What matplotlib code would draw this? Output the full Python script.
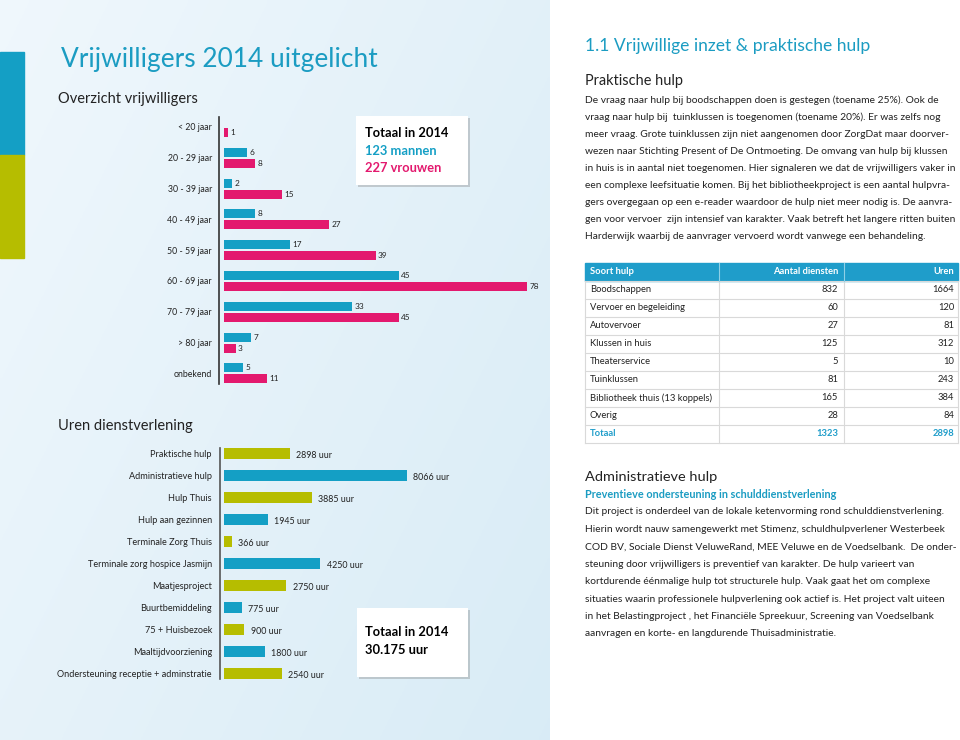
import numpy as np
import matplotlib
matplotlib.use("Agg")
import matplotlib.pyplot as plt
from matplotlib.patches import Rectangle
import matplotlib.patheffects as pe

# ---- data ----
leeftijd = ["< 20 jaar", "20 - 29 jaar", "30 - 39 jaar", "40 - 49 jaar", "50 - 59 jaar",
            "60 - 69 jaar", "70 - 79 jaar", "> 80 jaar", "onbekend"]
mannen = [0, 6, 2, 8, 17, 45, 33, 7, 5]
vrouwen = [1, 8, 15, 27, 39, 78, 45, 3, 11]

diensten = ["Praktische hulp", "Administratieve hulp", "Hulp Thuis", "Hulp aan gezinnen",
            "Terminale Zorg Thuis", "Terminale zorg hospice Jasmijn", "Maatjesproject",
            "Buurtbemiddeling", "75 + Huisbezoek", "Maaltijdvoorziening",
            "Ondersteuning receptie + adminstratie"]
uren = [2898, 8066, 3885, 1945, 366, 4250, 2750, 775, 900, 1800, 2540]

soort_hulp = ["Boodschappen", "Vervoer en begeleiding", "Autovervoer", "Klussen in huis",
              "Theaterservice", "Tuinklussen", "Bibliotheek thuis (13 koppels)", "Overig"]
aantal_diensten = [832, 60, 27, 125, 5, 81, 165, 28]
uren_hulp = [1664, 120, 81, 312, 10, 243, 384, 84]

tekst_praktisch = [
    "De vraag naar hulp bij boodschappen doen is gestegen (toename 25%). Ook de",
    "vraag naar hulp bij  tuinklussen is toegenomen (toename 20%). Er was zelfs nog",
    "meer vraag. Grote tuinklussen zijn niet aangenomen door ZorgDat maar doorver-",
    "wezen naar Stichting Present of De Ontmoeting. De omvang van hulp bij klussen",
    "in huis is in aantal niet toegenomen. Hier signaleren we dat de vrijwilligers vaker in",
    "een complexe leefsituatie komen. Bij het bibliotheekproject is een aantal hulpvra-",
    "gers overgegaan op een e-reader waardoor de hulp niet meer nodig is. De aanvra-",
    "gen voor vervoer  zijn intensief van karakter. Vaak betreft het langere ritten buiten",
    "Harderwijk waarbij de aanvrager vervoerd wordt vanwege een behandeling.",
]
tekst_admin = [
    "Dit project is onderdeel van de lokale ketenvorming rond schulddienstverlening.",
    "Hierin wordt nauw samengewerkt met Stimenz, schuldhulpverlener Westerbeek",
    "COD BV, Sociale Dienst VeluweRand, MEE Veluwe en de Voedselbank.  De onder-",
    "steuning door vrijwilligers is preventief van karakter. De hulp varieert van",
    "kortdurende éénmalige hulp tot structurele hulp. Vaak gaat het om complexe",
    "situaties waarin professionele hulpverlening ook actief is. Het project valt uiteen",
    "in het Belastingproject , het Financiële Spreekuur, Screening van Voedselbank",
    "aanvragen en korte- en langdurende Thuisadministratie.",
]

BLUE = "#149fc5"
PINK = "#e3196e"
GREEN = "#b6bd00"
TITLE = "#1b9cc2"
DARK = "#222222"
BODY = ["Lato", "DejaVu Sans"]
HEAD = ["Lato", "DejaVu Sans"]
plt.rcParams["font.family"] = BODY

W, H = 960, 740
fig = plt.figure(figsize=(9.6, 7.4), dpi=100)
renderer = fig.canvas.get_renderer()


def frac(x0, y0, x1, y1):
    return [x0 / W, 1 - y1 / H, (x1 - x0) / W, (y1 - y0) / H]


bg = fig.add_axes([0, 0, 1, 1], zorder=0)
bg.set_xlim(0, W)
bg.set_ylim(H, 0)
bg.axis("off")


def size_for(s, width, weight="normal", fam=BODY):
    # font size that makes string s about `width` pixels wide
    t = bg.text(0, 0, s, fontsize=10, family=fam, fontweight=weight)
    w = t.get_window_extent(renderer).width
    t.remove()
    return 10 * width / w


# left panel gradient
gx, gy = np.meshgrid(np.linspace(0, 1, 200), np.linspace(0, 1, 200))
g = np.clip(0.6 * gx + 0.4 * gy, 0, 1)
c0 = np.array([0.94, 0.97, 0.99])
c1 = np.array([0.85, 0.925, 0.965])
img = c0[None, None, :] * (1 - g[..., None]) + c1[None, None, :] * g[..., None]
bg.imshow(img, extent=[0, 550, H, 0], aspect="auto", zorder=0)
bg.set_xlim(0, W)
bg.set_ylim(H, 0)

bg.add_patch(Rectangle((0, 52), 24, 103, color=BLUE, zorder=1))
bg.add_patch(Rectangle((0, 155), 24, 103, color=GREEN, zorder=1))

bg.text(61, 60, "Vrijwilligers 2014 uitgelicht", color=TITLE,
        fontsize=size_for("Vrijwilligers 2014 uitgelicht", 315, fam=HEAD),
        family=HEAD, va="center", ha="left")
bg.text(58, 99, "Overzicht vrijwilligers", color=DARK,
        fontsize=size_for("Overzicht vrijwilligers", 139, fam=HEAD), family=HEAD, va="center")
bg.text(58, 426, "Uren dienstverlening", color=DARK,
        fontsize=size_for("Uren dienstverlening", 134, fam=HEAD), family=HEAD, va="center")

shadow = [pe.SimplePatchShadow(offset=(1.5, -1.5), shadow_rgbFace="0.5", alpha=0.35), pe.Normal()]
fs_box = size_for("Totaal in 2014", 83, weight="bold", fam=HEAD)
bg.add_patch(Rectangle((356, 116), 112, 69, facecolor="white", edgecolor="none",
                       zorder=2, path_effects=shadow))
bg.text(365, 133, "Totaal in 2014", color="black", fontsize=fs_box, family=HEAD,
        fontweight="bold", va="center", zorder=3)
bg.text(365, 151, "%d mannen" % sum(mannen), color=BLUE, fontsize=fs_box, family=HEAD,
        fontweight="bold", va="center", zorder=3)
bg.text(365, 168, "%d vrouwen" % sum(vrouwen), color=PINK, fontsize=fs_box, family=HEAD,
        fontweight="bold", va="center", zorder=3)

bg.add_patch(Rectangle((357, 608), 111, 69, facecolor="white", edgecolor="none",
                       zorder=2, path_effects=shadow))
bg.text(365, 632, "Totaal in 2014", color="black", fontsize=fs_box, family=HEAD,
        fontweight="bold", va="center", zorder=3)
bg.text(365, 650, "{:,} uur".format(sum(uren)).replace(",", "."), color="black",
        fontsize=fs_box, family=HEAD, fontweight="bold", va="center", zorder=3)


def style_axis(ax, outward, lo, hi, col):
    # spine position first: it resets the ticks
    for s in ["top", "right", "bottom"]:
        ax.spines[s].set_visible(False)
    ax.spines["left"].set_position(("outward", outward))
    ax.spines["left"].set_bounds(lo, hi)
    ax.spines["left"].set_linewidth(1.2)
    ax.spines["left"].set_color(col)
    ax.patch.set_alpha(0)


# ---- top chart: vrijwilligers per leeftijd ----
fs_tick1 = size_for("20 - 29 jaar", 44)
fs_val1 = size_for("78", 9.5)
ax1 = fig.add_axes(frac(224, 111.6, 527, 388.8), zorder=2)
style_axis(ax1, 3.6, -0.33, 8.33, "#333333")
y = np.arange(len(leeftijd))
off, bh = 0.18, 0.29
for i in range(len(leeftijd)):
    if mannen[i] > 0:
        ax1.barh(y[i] - off, mannen[i], height=bh, color=BLUE)
        ax1.text(mannen[i] + 0.6, y[i] - off, str(mannen[i]), fontsize=fs_val1,
                 color=DARK, va="center")
    if vrouwen[i] > 0:
        ax1.barh(y[i] + off, vrouwen[i], height=bh, color=PINK)
        ax1.text(vrouwen[i] + 0.6, y[i] + off, str(vrouwen[i]), fontsize=fs_val1,
                 color=DARK, va="center")
ax1.set_xlim(0, 78)
ax1.set_ylim(len(leeftijd) - 0.5, -0.5)
ax1.set_xticks([])
ax1.set_yticks(y)
ax1.set_yticklabels(leeftijd)
ax1.tick_params(axis="y", length=0, pad=5, labelsize=fs_tick1, labelcolor=DARK)

# ---- bottom chart: uren dienstverlening ----
fs_tick2 = size_for("Ondersteuning receptie + adminstratie", 156)
fs_val2 = size_for("2898 uur", 36)
ax2 = fig.add_axes(frac(224, 442.5, 407, 684.5), zorder=2)
style_axis(ax2, 2.9, -0.27, 10.27, "#555555")
y2 = np.arange(len(diensten))
kleuren = [GREEN if i % 2 == 0 else BLUE for i in range(len(diensten))]
ax2.barh(y2, uren, height=0.5, color=kleuren)
for i, v in enumerate(uren):
    ax2.text(v + 270, y2[i] + 0.07, "%d uur" % v, fontsize=fs_val2,
             color=DARK, va="center")
ax2.set_xlim(0, 8066)
ax2.set_ylim(len(diensten) - 0.5, -0.5)
ax2.set_xticks([])
ax2.set_yticks(y2)
ax2.set_yticklabels(diensten)
ax2.tick_params(axis="y", length=0, pad=5.8, labelsize=fs_tick2, labelcolor=DARK)

# ---- right side text ----
bg.text(585, 46, "1.1 Vrijwillige inzet & praktische hulp", color=TITLE,
        fontsize=size_for("1.1 Vrijwillige inzet & praktische hulp", 285, fam=HEAD),
        family=HEAD, va="center")
fs_h = size_for("Praktische hulp", 98, fam=HEAD)
bg.text(585, 81, "Praktische hulp", color=DARK, fontsize=fs_h, family=HEAD, va="center")
fs_p = min(size_for(line, 372) for line in tekst_praktisch)
for i, line in enumerate(tekst_praktisch):
    bg.text(585, 100 + 17.1 * i, line, color=DARK, fontsize=fs_p, va="center")

# table
fs_t = size_for("Bibliotheek thuis (13 koppels)", 122)
cols = [585, 719, 844, 958]
top = 263
rh = 18
bg.add_patch(Rectangle((cols[0], top), cols[-1] - cols[0], rh, color="#1f9dca", zorder=1))
hdr = ["Soort hulp", "Aantal diensten", "Uren"]
bg.text(cols[0] + 5, top + rh / 2, hdr[0], color="white", fontsize=fs_t,
        fontweight="bold", va="center")
bg.text(cols[2] - 6, top + rh / 2, hdr[1], color="white", fontsize=fs_t,
        fontweight="bold", va="center", ha="right")
bg.text(cols[3] - 4, top + rh / 2, hdr[2], color="white", fontsize=fs_t,
        fontweight="bold", va="center", ha="right")
rows = list(zip(soort_hulp, aantal_diensten, uren_hulp))
rows.append(("Totaal", sum(aantal_diensten), sum(uren_hulp)))
for r, (naam, n, u) in enumerate(rows):
    yc = top + rh * (r + 1) + rh / 2
    tot = r == len(rows) - 1
    col = "#1f9dca" if tot else DARK
    fw = "bold" if tot else "normal"
    bg.text(cols[0] + 5, yc, naam, color=col, fontsize=fs_t, fontweight=fw, va="center")
    bg.text(cols[2] - 6, yc, str(n), color=col, fontsize=fs_t, fontweight=fw,
            va="center", ha="right")
    bg.text(cols[3] - 4, yc, str(u), color=col, fontsize=fs_t, fontweight=fw,
            va="center", ha="right")
bottom = top + rh * (len(rows) + 1)
for r in range(len(rows) + 1):
    yl = top + rh * (r + 1)
    bg.plot([cols[0], cols[-1]], [yl, yl], color="#d9d9d9", lw=0.8, zorder=1)
for xc in cols:
    bg.plot([xc, xc], [top + rh, bottom], color="#d9d9d9", lw=0.8, zorder=1)
for xc in cols[1:3]:
    bg.plot([xc, xc], [top, top + rh], color="#8fd0e6", lw=0.8, zorder=2)

bg.text(585, 477, "Administratieve hulp", color=DARK,
        fontsize=size_for("Administratieve hulp", 132, fam=HEAD), family=HEAD, va="center")
sub = "Preventieve ondersteuning in schulddienstverlening"
bg.text(585, 495, sub, color=TITLE, fontsize=size_for(sub, 252, weight="bold"),
        fontweight="bold", va="center")
fs_p2 = min(size_for(line, 372) for line in tekst_admin)
for i, line in enumerate(tekst_admin):
    bg.text(585, 512 + 17.4 * i, line, color=DARK, fontsize=fs_p2, va="center")

fig.savefig("out.png", dpi=100)
